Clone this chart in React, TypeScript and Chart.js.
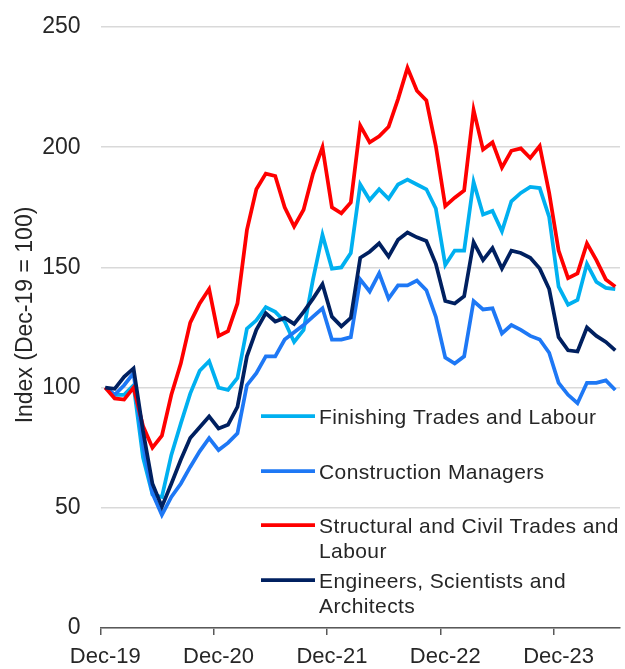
import React, { useEffect, useRef } from 'react';
import { Chart, registerables } from 'chart.js';

Chart.register(...registerables);

const categories = [
  'Dec-19', 'Jan-20', 'Feb-20', 'Mar-20', 'Apr-20', 'May-20', 'Jun-20', 'Jul-20', 'Aug-20', 'Sep-20', 'Oct-20', 'Nov-20',
  'Dec-20', 'Jan-21', 'Feb-21', 'Mar-21', 'Apr-21', 'May-21', 'Jun-21', 'Jul-21', 'Aug-21', 'Sep-21', 'Oct-21', 'Nov-21',
  'Dec-21', 'Jan-22', 'Feb-22', 'Mar-22', 'Apr-22', 'May-22', 'Jun-22', 'Jul-22', 'Aug-22', 'Sep-22', 'Oct-22', 'Nov-22',
  'Dec-22', 'Jan-23', 'Feb-23', 'Mar-23', 'Apr-23', 'May-23', 'Jun-23', 'Jul-23', 'Aug-23', 'Sep-23', 'Oct-23', 'Nov-23',
  'Dec-23', 'Jan-24', 'Feb-24', 'Mar-24', 'Apr-24', 'May-24', 'Jun-24',
];

const finishingTrades = [
  100, 97, 97, 101, 71, 55.5, 54.5, 72, 85, 97.5,
  107, 111, 100, 99, 104, 124.5, 128, 133.5, 131.5, 127.5,
  119, 124, 145, 163.5, 149.5, 150, 156, 184.5, 178, 182.5,
  178.5, 184.5, 186.5, 184.5, 182.5, 174.5, 151, 157, 157, 185.5,
  172, 173.5, 165, 177.5, 181, 183.5, 183, 171, 142, 134.5,
  136.5, 151.5, 144, 141.5, 141,
];

const constructionManagers = [
  100, 97, 101, 106, 76, 56, 47, 54.5, 60, 67,
  73.5, 79, 74, 77, 81, 101, 106, 113, 113, 120,
  123, 126, 129.5, 133, 120, 120, 121, 145, 140, 147.5,
  137, 142.5, 142.5, 144.5, 140.5, 129.5, 112.5, 110, 113, 136,
  132.5, 133, 122.5, 126, 124, 121.5, 120, 114.5, 102, 97,
  93.5, 102, 102, 103, 99,
];

const structuralCivil = [
  100, 95.5, 95, 100, 84, 75, 80, 97, 110, 127,
  135, 141, 121.5, 123.5, 135, 165.5, 182.5, 189, 188, 175,
  167, 174, 189, 200, 175, 172.5, 177, 209, 202, 204.5,
  208.5, 220, 233, 223.5, 219.5, 200.5, 175.5, 179, 182, 215.5,
  199, 202, 191.5, 198.5, 199.5, 195.5, 200.5, 181, 157, 145.5,
  147.5, 160, 153, 145, 142,
];

const engineersArchitects = [
  100, 99.5, 104.5, 108, 82, 60, 50.5, 60, 70, 79,
  83.5, 88, 83, 84.5, 92, 113, 124, 131, 127.5, 129,
  126.5, 131.5, 137, 143, 129.5, 125.5, 129, 154, 156.5, 160,
  154.5, 161.5, 164.5, 162.5, 161, 151.5, 136, 135, 138, 160.5,
  153, 158, 149.5, 157, 156, 154, 149.5, 141, 121, 115.5,
  115, 125, 121.5, 119, 115.5,
];

const seriesNames = [
  'Finishing Trades and Labour',
  'Construction Managers',
  'Structural and Civil Trades and Labour',
  'Engineers, Scientists and Architects',
];

const legendLines = [
  ['Finishing Trades and Labour'],
  ['Construction Managers'],
  ['Structural and Civil Trades and', 'Labour'],
  ['Engineers, Scientists and', 'Architects'],
];

const yTitle = 'Index (Dec-19 = 100)';

const FONT = "'Liberation Sans', Arial, sans-serif";
const TEXT = '#262626';

const legendPlugin = {
  id: 'boxLegend',
  afterDraw(chart: any, _args: any, opts: any) {
    const ctx = chart.ctx as CanvasRenderingContext2D;
    ctx.save();
    ctx.font = `${opts.fontSize}px ${FONT}`;
    (ctx as any).letterSpacing = opts.letterSpacing;
    ctx.fillStyle = TEXT;
    ctx.textBaseline = 'alphabetic';
    ctx.textAlign = 'left';
    chart.data.datasets.forEach((ds: any, k: number) => {
      const cy = opts.rows[k];
      ctx.strokeStyle = ds.borderColor;
      ctx.lineWidth = opts.lineWidth;
      ctx.beginPath();
      ctx.moveTo(opts.x, cy);
      ctx.lineTo(opts.x + opts.sample, cy);
      ctx.stroke();
      legendLines[k].forEach((ln, j) => {
        ctx.fillText(ln, opts.textX, cy + opts.baseline + j * opts.lineHeight);
      });
    });
    ctx.restore();
  },
};

const yTitlePlugin = {
  id: 'yTitleText',
  afterDraw(chart: any, _args: any, opts: any) {
    const ctx = chart.ctx as CanvasRenderingContext2D;
    ctx.save();
    ctx.font = `${opts.fontSize}px ${FONT}`;
    ctx.fillStyle = TEXT;
    ctx.textAlign = 'center';
    ctx.textBaseline = 'middle';
    ctx.translate(opts.x, opts.y);
    ctx.rotate(-Math.PI / 2);
    ctx.fillText(yTitle, 0, 0);
    ctx.restore();
  },
};

export default function App() {
  const ref = useRef<HTMLCanvasElement | null>(null);

  useEffect(() => {
    if (!ref.current) return;
    const colors = ['#00B0F0', '#1E78F5', '#FF0000', '#002060'];
    const values = [finishingTrades, constructionManagers, structuralCivil, engineersArchitects];
    const drawOrder = [3, 2, 1, 0];
    const chart = new Chart(ref.current, {
      type: 'line',
      data: {
        labels: categories,
        datasets: seriesNames.map((name, k) => ({
          label: name,
          data: values[k],
          borderColor: colors[k],
          backgroundColor: colors[k],
          borderWidth: 3.75,
          pointRadius: 0,
          tension: 0,
          order: drawOrder[k],
        })),
      },
      options: {
        responsive: false,
        animation: false,
        layout: { padding: { top: 27, right: 5, left: 0, bottom: 0 } },
        plugins: {
          legend: { display: false },
          tooltip: { enabled: false },
          boxLegend: {
            x: 261,
            sample: 54,
            textX: 319,
            rows: [416, 471, 525, 580],
            baseline: 7.5,
            lineHeight: 25,
            fontSize: 21,
            lineWidth: 3.75,
            letterSpacing: '0.4px',
          },
          yTitleText: { x: 26, y: 315, fontSize: 23 },
        } as any,
        scales: {
          x: {
            type: 'category',
            offset: true,
            afterFit: (s: any) => { s.height = 41; },
            grid: {
              offset: true,
              drawOnChartArea: false,
              drawTicks: true,
              tickLength: 7,
              lineWidth: 1.5,
              color: (c: any) => (c.index % 12 === 0 ? '#595959' : 'rgba(0,0,0,0)'),
            },
            border: { display: true, color: '#595959', width: 1.5 },
            ticks: {
              autoSkip: false,
              maxRotation: 0,
              minRotation: 0,
              padding: 9,
              color: TEXT,
              font: { family: FONT, size: 22 },
              callback: (_v: any, i: number) => (i % 12 === 0 ? categories[i] : ''),
            },
          },
          y: {
            min: 0,
            max: 250,
            afterFit: (s: any) => { s.width = 100.5; },
            ticks: {
              stepSize: 50,
              padding: 0,
              color: TEXT,
              font: { family: FONT, size: 23 },
            },
            grid: {
              color: '#D9D9D9',
              lineWidth: 1.5,
              drawTicks: true,
              tickLength: 20,
              tickColor: 'rgba(0,0,0,0)',
            },
            border: { display: false },
          },
        },
      },
      plugins: [legendPlugin, yTitlePlugin],
    });
    return () => chart.destroy();
  }, []);

  return (
    <div style={{ position: 'absolute', left: 0, top: 0, width: 625, height: 669, background: '#fff' }}>
      <canvas ref={ref} width={625} height={669} style={{ display: 'block' }} />
    </div>
  );
}
